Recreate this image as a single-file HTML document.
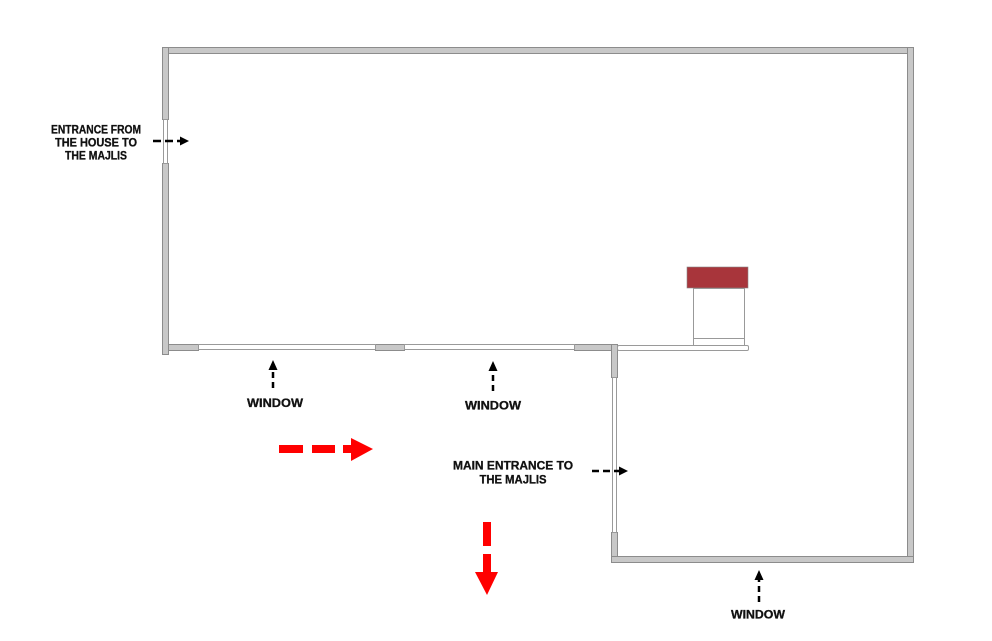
<!DOCTYPE html>
<html><head><meta charset="utf-8"><style>
html,body{margin:0;padding:0;background:#fff;}
svg{display:block;}
text{font-family:"Liberation Sans",sans-serif;font-weight:bold;fill:#111;stroke:#111;stroke-width:0.3;}
</style></head><body>
<svg width="992" height="641" viewBox="0 0 992 641" xmlns="http://www.w3.org/2000/svg">
<g stroke="#8c8c8c" stroke-width="1" fill="#c8c8c8">
<rect x="162.5" y="47.5" width="751" height="6"/>
<rect x="907.5" y="47.5" width="6" height="515"/>
<rect x="162.5" y="47.5" width="6" height="72"/>
<rect x="162.5" y="163.5" width="6" height="191"/>
<rect x="168.5" y="344.5" width="30" height="6"/>
<rect x="375.5" y="344.5" width="29" height="6"/>
<rect x="574.5" y="344.5" width="43" height="6"/>
<rect x="611.5" y="344.5" width="6" height="33"/>
<rect x="611.5" y="532.5" width="6" height="30"/>
<rect x="611.5" y="556.5" width="302" height="6"/>
</g>
<g fill="#fff" stroke="#9a9a9a" stroke-width="1">
<rect x="163.5" y="119.5" width="4" height="44"/>
<rect x="198.5" y="344.5" width="177" height="5"/>
<rect x="404.5" y="344.5" width="170" height="5"/>
<rect x="612.5" y="377.5" width="4" height="155"/>
<rect x="617.5" y="345.5" width="131" height="5" rx="1.5"/>
</g>
<rect x="687" y="267" width="61" height="21" fill="#a8353b" stroke="#888" stroke-width="0.6"/>
<rect x="693.5" y="288.5" width="51" height="57" fill="#fff" stroke="#999" stroke-width="1"/>
<line x1="693.5" y1="338.5" x2="744.5" y2="338.5" stroke="#999" stroke-width="1"/>
<g stroke="#000" stroke-width="2.5" fill="none">
<line x1="153" y1="141" x2="181" y2="141" stroke-dasharray="8,4"/>
<line x1="592" y1="471" x2="620" y2="471" stroke-dasharray="7,4"/>
<line x1="273" y1="388" x2="273" y2="370" stroke-dasharray="6,4"/>
<line x1="493" y1="391" x2="493" y2="371" stroke-dasharray="6,4"/>
<line x1="759" y1="602" x2="759" y2="580" stroke-dasharray="6,4"/>
</g>
<g fill="#000">
<path d="M180,136.5 L189,141 L180,145.5 z"/>
<path d="M619,466.5 L628,471 L619,475.5 z"/>
<path d="M268.5,370 L273,360 L277.5,370 z"/>
<path d="M488.5,371 L493,361 L497.5,371 z"/>
<path d="M754.5,580 L759,570 L763.5,580 z"/>
</g>
<g fill="#f00">
<rect x="279" y="445" width="24" height="8"/>
<rect x="312" y="445" width="23" height="8"/>
<rect x="343" y="445" width="10" height="8"/>
<path d="M351,438 L373,449 L351,461 z"/>
<rect x="483" y="522" width="8" height="24"/>
<rect x="483" y="554" width="8" height="20"/>
<path d="M475,572 L498,572 L487,595 z"/>
</g>
<g font-size="11.5" text-anchor="middle">
<text x="96" y="133.5" textLength="90" lengthAdjust="spacingAndGlyphs">ENTRANCE FROM</text>
<text x="96" y="146.5" textLength="82" lengthAdjust="spacingAndGlyphs">THE HOUSE TO</text>
<text x="96" y="159.5" textLength="62" lengthAdjust="spacingAndGlyphs">THE MAJLIS</text>
<text x="275" y="407" textLength="56" lengthAdjust="spacingAndGlyphs">WINDOW</text>
<text x="493" y="409.5" textLength="56" lengthAdjust="spacingAndGlyphs">WINDOW</text>
<text x="758" y="618.5" textLength="54" lengthAdjust="spacingAndGlyphs">WINDOW</text>
<text x="513" y="469.5" textLength="120" lengthAdjust="spacingAndGlyphs">MAIN ENTRANCE TO</text>
<text x="513" y="483.5" textLength="67" lengthAdjust="spacingAndGlyphs">THE MAJLIS</text>
</g>
</svg>
</body></html>
